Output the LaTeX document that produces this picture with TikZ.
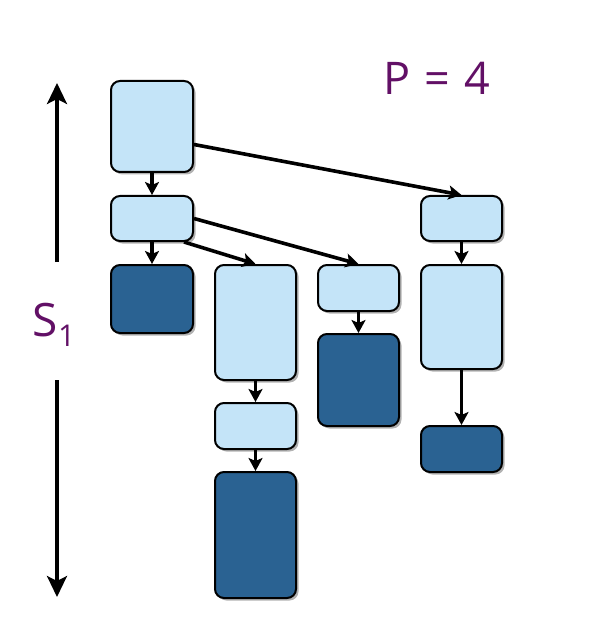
\documentclass[tikz,border=0pt]{standalone}
\usepackage{fontspec}
\setmainfont{Open Sans}
\usetikzlibrary{arrows.meta,shadows,calc}
\definecolor{lightbox}{RGB}{196,228,248}
\definecolor{darkbox}{RGB}{42,98,146}
\definecolor{purp}{RGB}{98,16,102}
\tikzset{
  box/.style={draw=black, line width=2pt, rounded corners=9pt, inner sep=0pt,
    drop shadow={shadow xshift=2.5pt, shadow yshift=-2.5pt, opacity=0.3, fill=black}},
  lbox/.style={box, fill=lightbox},
  dbox/.style={box, fill=darkbox},
  conn/.style={line width=3.6pt, -{Stealth[length=13pt,width=14pt,inset=3pt]}},
  bigarr/.style={line width=3.2pt, -{Stealth[length=21pt,width=20pt,inset=5pt]}},
}
\newcommand{\bx}[6]{\node[#2, minimum width=#5pt, minimum height=#6pt] (#1) at (#3+#5/2,#4+#6/2) {};}
\begin{document}
\begin{tikzpicture}[x=1pt,y=-1pt]
\useasboundingbox (0,0) rectangle (592,636);
% boxes: name, style, left, top, width, height
\bx{A}{lbox}{111}{81}{82}{91}
\bx{B}{lbox}{111}{196}{82}{45}
\bx{C}{dbox}{111}{265}{82}{68}
\bx{D}{lbox}{215}{265}{81}{115}
\bx{E}{lbox}{215}{403}{81}{46}
\bx{F}{dbox}{215}{472}{81}{126}
\bx{G}{lbox}{318}{265}{81}{46}
\bx{H}{dbox}{318}{334}{81}{92}
\bx{I}{lbox}{421}{196}{81}{45}
\bx{J}{lbox}{421}{265}{81}{104}
\bx{K}{dbox}{421}{426}{81}{46}
% connectors
\draw[conn] (A.south) -- (B.north);
\draw[conn] (B.south) -- (C.north);
\draw[conn] ([yshift=-18pt]A.east) -- (I.north);
\draw[conn] ([xshift=-10pt]B.south east) -- (D.north);
\draw[conn] (B.east) -- (G.north);
\draw[conn] (D.south) -- (E.north);
\draw[conn] (E.south) -- (F.north);
\draw[conn] (G.south) -- (H.north);
\draw[conn] (I.south) -- (J.north);
\draw[conn] (J.south) -- (K.north);
% labels
\node[text=purp, font=\fontsize{45}{45}\selectfont, anchor=base] (P) at (437,95) {P\hspace{0.32em}=\hspace{0.32em}4};
\node[text=purp, font=\fontsize{46}{46}\selectfont, anchor=base] (S) at (54,336) {S\raisebox{-0.22em}{\fontsize{30}{30}\selectfont 1}};
\coordinate (t0) at (57,262);
\coordinate (t1) at (57,83);
\coordinate (b0) at (57,380);
\coordinate (b1) at (57,597);
\draw[bigarr] (t0) -- (t1);
\draw[bigarr] (b0) -- (b1);
\end{tikzpicture}
\end{document}
